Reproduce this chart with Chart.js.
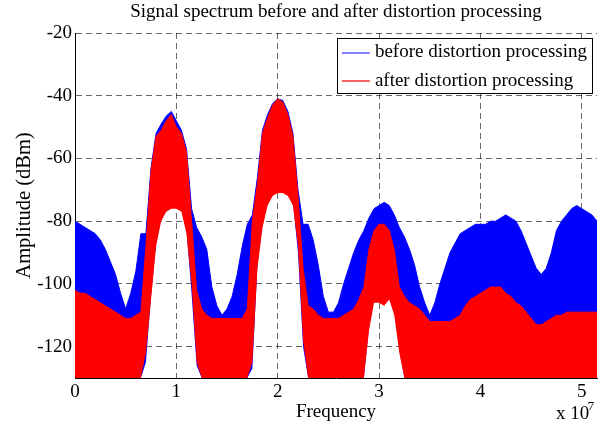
<!DOCTYPE html>
<html>
<head>
<meta charset="utf-8">
<script src="https://cdn.jsdelivr.net/npm/chart.js@4/dist/chart.umd.min.js"></script>
<style>
  html, body { margin: 0; padding: 0; background: #fff; }
  #wrap { width: 605px; height: 431px; }
</style>
</head>
<body>
<div id="wrap"><canvas id="spectrumChart"></canvas></div>
<script>
// frequency grid, in units of 1e7 Hz (axis shows "x 10^7")
const freq = [
  0, 0.05, 0.1, 0.15, 0.2, 0.25, 0.3, 0.35, 0.4, 0.45,
  0.5, 0.55, 0.6, 0.65, 0.7, 0.75, 0.8, 0.85, 0.9, 0.95,
  1.0, 1.05, 1.1, 1.15, 1.2, 1.25, 1.3, 1.35, 1.4, 1.45,
  1.5, 1.55, 1.6, 1.65, 1.7, 1.75, 1.8, 1.85, 1.9, 1.95,
  2.0, 2.05, 2.1, 2.15, 2.2, 2.25, 2.3, 2.35, 2.4, 2.45,
  2.5, 2.55, 2.6, 2.65, 2.7, 2.75, 2.8, 2.85, 2.9, 2.95,
  3.0, 3.05, 3.1, 3.15, 3.2, 3.25, 3.3, 3.35, 3.4, 3.45,
  3.5, 3.55, 3.6, 3.65, 3.7, 3.75, 3.8, 3.85, 3.9, 3.95,
  4.0, 4.05, 4.1, 4.15, 4.2, 4.25, 4.3, 4.35, 4.4, 4.45,
  4.5, 4.55, 4.6, 4.65, 4.7, 4.75, 4.8, 4.85, 4.9, 4.95,
  5.0, 5.05, 5.1, 5.15
];

// "before" spectrum: top and bottom of the noisy band (dBm)
const beforeTop = [
  -80, -81, -82, -83, -84, -86, -89, -93, -97, -103,
  -108, -103, -96, -84, -84, -63, -52, -49, -46.5, -45,
  -48, -51, -57, -76, -82, -85, -89, -101, -107, -110,
  -108, -104, -97, -88, -81, -78, -66, -51, -46, -42.5,
  -41, -41.5, -45, -52, -70, -81, -81, -86, -94, -104,
  -109, -109, -106, -100, -95, -90, -86, -83, -79, -76,
  -75, -74, -75, -78, -82, -85, -89, -94, -101, -106,
  -110, -106, -100, -95, -90, -87, -84, -83, -82, -81,
  -81, -81, -80, -80, -79, -78, -79, -80, -83, -87,
  -91, -95, -97, -95, -90, -83, -80, -78, -76, -75,
  -76, -77, -78, -80
];
const beforeBottom = [
  -130, -130, -130, -130, -130, -130, -130, -130, -130, -130,
  -130, -130, -130, -130, -125, -104, -87, -79, -76, -75,
  -75, -76, -83, -103, -126, -130, -130, -130, -130, -130,
  -130, -130, -130, -130, -130, -127, -94, -81, -74, -71,
  -70, -70, -71, -74, -90, -120, -130, -130, -130, -130,
  -130, -130, -130, -130, -130, -130, -130, -130, -114, -105,
  -105, -106, -104, -109, -121, -130, -130, -130, -130, -130,
  -130, -130, -130, -130, -130, -130, -130, -130, -130, -130,
  -130, -130, -130, -130, -130, -130, -130, -130, -130, -130,
  -130, -130, -130, -130, -130, -130, -130, -130, -130, -130,
  -130, -130, -130, -130
];

// "after" spectrum
const afterTop = [
  -102, -103, -103, -104, -105, -106, -107, -108, -109, -110,
  -111, -111, -110, -109, -88, -64, -53, -51, -48, -46,
  -50, -52, -58, -80, -102, -108, -110, -111, -111, -111,
  -111, -111, -111, -111, -108, -80, -68, -52, -47, -43,
  -41, -42, -46, -53, -72, -95, -107, -108, -110, -111,
  -111, -111, -111, -110, -109, -108, -105, -101, -89, -83,
  -81, -81, -83, -89, -101, -104, -106, -107, -108, -110,
  -112, -112, -112, -112, -112, -111, -110, -107, -105, -104,
  -103, -102, -101, -101, -101, -103, -104, -106, -107, -109,
  -111, -113, -113, -112, -111, -110, -110, -109, -109, -109,
  -109, -109, -109, -109
];
const afterBottom = [
  -130, -130, -130, -130, -130, -130, -130, -130, -130, -130,
  -130, -130, -130, -130, -122, -105, -88, -80, -77, -76,
  -76, -77, -84, -100, -125, -130, -130, -130, -130, -130,
  -130, -130, -130, -130, -130, -125, -95, -82, -75, -72,
  -71, -71, -72, -75, -88, -118, -130, -130, -130, -130,
  -130, -130, -130, -130, -130, -130, -130, -130, -115, -106,
  -106, -107, -105, -110, -122, -130, -130, -130, -130, -130,
  -130, -130, -130, -130, -130, -130, -130, -130, -130, -130,
  -130, -130, -130, -130, -130, -130, -130, -130, -130, -130,
  -130, -130, -130, -130, -130, -130, -130, -130, -130, -130,
  -130, -130, -130, -130
];

const xTicks = [0, 1, 2, 3, 4, 5];
const yTicks = [-120, -100, -80, -60, -40, -20];
const seriesLabels = ['before distortion processing', 'after distortion processing'];
const seriesColors = ['#0000ff', '#ff0000'];
const legendLineColors = ['#5a5aff', '#ff3030'];

const FONT = "'Liberation Serif', 'Times New Roman', serif";

const toPoints = ys => ys.map((y, i) => ({ x: freq[i], y: y }));

// legend drawn inside the plot, MATLAB style
const legendBox = {
  id: 'legendBox',
  afterDraw(chart) {
    const ctx = chart.ctx;
    const area = chart.chartArea;
    ctx.save();
    ctx.font = '19px ' + FONT;
    const textW = Math.max(...seriesLabels.map(t => ctx.measureText(t).width));
    const w = 5 + 28 + 5 + textW + 5;
    const h = 55;
    const x0 = area.right - 5 - w;
    const y0 = area.top + 5;
    ctx.fillStyle = '#fff';
    ctx.fillRect(x0, y0, w, h);
    ctx.strokeStyle = '#000';
    ctx.lineWidth = 1;
    ctx.strokeRect(Math.round(x0) + 0.5, Math.round(y0) + 0.5, Math.round(w), h);
    seriesLabels.forEach((label, i) => {
      const cy = y0 + 14.5 + i * 28.5;
      ctx.save();
      ctx.strokeStyle = legendLineColors[i];
      ctx.lineWidth = 1.5;
      ctx.beginPath();
      ctx.moveTo(x0 + 5, Math.round(cy));
      ctx.lineTo(x0 + 33, Math.round(cy));
      ctx.stroke();
      ctx.restore();
      ctx.fillStyle = '#000';
      ctx.textBaseline = 'middle';
      ctx.textAlign = 'left';
      ctx.fillText(label, x0 + 38, cy);
    });
    ctx.restore();
  }
};

// "x 10^7" exponent label under the x axis
const axisExponent = {
  id: 'axisExponent',
  afterDraw(chart) {
    const ctx = chart.ctx;
    const area = chart.chartArea;
    ctx.save();
    ctx.fillStyle = '#000';
    ctx.textBaseline = 'alphabetic';
    ctx.textAlign = 'left';
    ctx.font = '19px ' + FONT;
    const base = 'x 10';
    const x = area.right - 41;
    ctx.fillText(base, x, 419);
    ctx.font = '13px ' + FONT;
    ctx.fillText('7', x + ctx.measureText(base).width + 9, 410);
    ctx.restore();
  }
};

const bandLine = (label, color, ys, fillTarget, order) => ({
  label: label,
  data: toPoints(ys),
  borderColor: color,
  backgroundColor: color,
  borderWidth: fillTarget === false ? 0 : 1,
  pointRadius: 0,
  tension: 0,
  fill: fillTarget === false ? false : { target: fillTarget },
  order: order
});

new Chart(document.getElementById('spectrumChart'), {
  type: 'line',
  data: {
    datasets: [
      bandLine(seriesLabels[0], seriesColors[0], beforeTop, 1, 2),
      bandLine('', seriesColors[0], beforeBottom, false, 3),
      bandLine(seriesLabels[1], seriesColors[1], afterTop, 3, 0),
      bandLine('', seriesColors[1], afterBottom, false, 1)
    ]
  },
  options: {
    responsive: true,
    maintainAspectRatio: false,
    animation: false,
    devicePixelRatio: 1,
    layout: { padding: { left: 0, right: 8, top: 0, bottom: 0 } },
    scales: {
      x: {
        type: 'linear',
        min: 0,
        max: 5.15,
        afterBuildTicks: s => { s.ticks = xTicks.map(v => ({ value: v })); },
        afterFit: s => { s.height = 53; },
        ticks: { color: '#000', font: { family: FONT, size: 19 }, padding: 3 },
        grid: { color: 'rgba(0,0,0,0.6)', lineWidth: 1, drawTicks: false },
        border: { color: '#000', width: 1, dash: [6, 4] },
        title: {
          display: true, text: 'Frequency', color: '#000',
          font: { family: FONT, size: 19 }, padding: { top: 0, bottom: 7.6 }
        }
      },
      y: {
        min: -130,
        max: -20,
        afterBuildTicks: s => { s.ticks = yTicks.map(v => ({ value: v })); },
        afterFit: s => { s.width = 75; },
        ticks: { color: '#000', font: { family: FONT, size: 19 }, padding: 3 },
        grid: { color: 'rgba(0,0,0,0.6)', lineWidth: 1, drawTicks: false },
        border: { color: '#000', width: 1, dash: [6, 4] },
        title: {
          display: true, text: 'Amplitude (dBm)', color: '#000',
          font: { family: FONT, size: 20.5 }, padding: { top: 12, bottom: 0 }
        }
      }
    },
    plugins: {
      legend: { display: false },
      tooltip: { enabled: false },
      title: {
        display: true,
        fullSize: false,
        text: 'Signal spectrum before and after distortion processing',
        color: '#000',
        font: { family: FONT, size: 19, weight: 'normal' },
        padding: { top: 1, bottom: 9.2 }
      }
    }
  },
  plugins: [legendBox, axisExponent]
});
</script>
</body>
</html>
